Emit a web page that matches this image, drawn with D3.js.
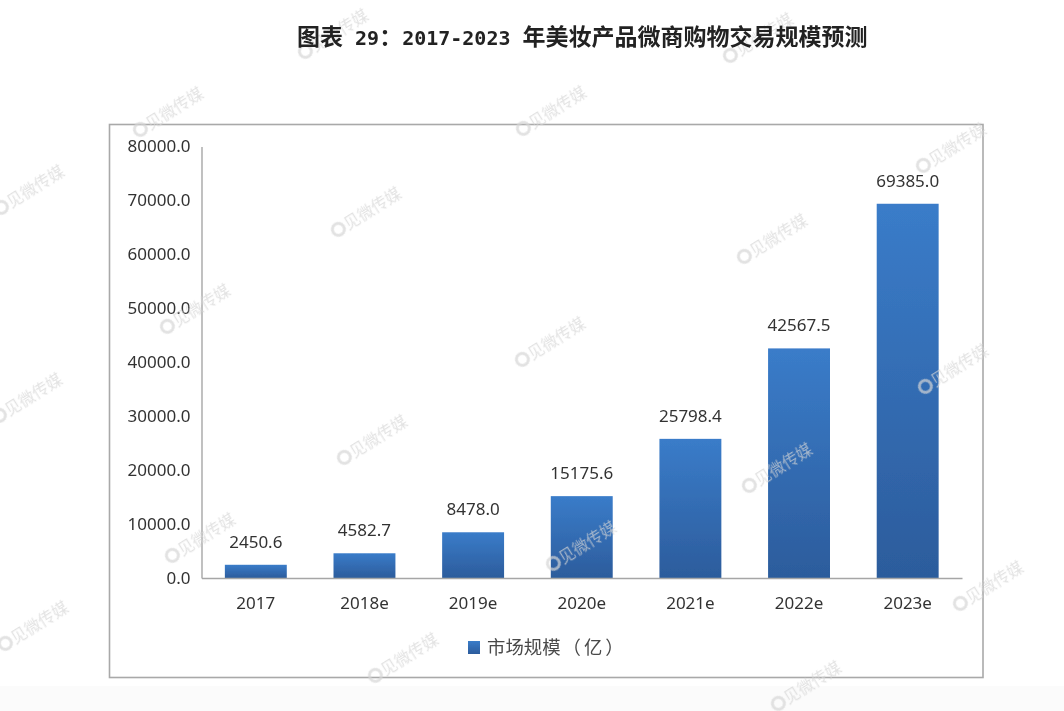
<!DOCTYPE html>
<html><head><meta charset="utf-8">
<script src="https://cdn.jsdelivr.net/npm/d3@7/dist/d3.min.js"></script>
<style>html,body{margin:0;padding:0;background:#fff}svg{display:block}</style></head>
<body><svg id="c" width="1064" height="711"></svg>
<script>
const categories = ["2017","2018e","2019e","2020e","2021e","2022e","2023e"];
const values = [2450.6,4582.7,8478.0,15175.6,25798.4,42567.5,69385.0];
const yTicks = [0,10000,20000,30000,40000,50000,60000,70000,80000];
const seriesNameParts = ["市场规模","（亿）"];
const titleParts = ["图表"," 29","：","2017-2023 ","年美妆产品微商购物交易规模预测"];
const watermarkText = "见微传媒";
const watermarks = [[165,114],[548,113],[363,214],[769,241],[948,150],[192,311],[547,344],[950,371],[369,442],[774,470],[197,540],[578,548],[985,588],[400,660],[803,688],[26,192],[24,400],[30,628],[755,40],[330,36]];

const svg = d3.select("#c");
const font = "'Noto Sans','Noto Sans CJK SC',sans-serif";
const defs = svg.append("defs");
const g = defs.append("linearGradient").attr("id","bar").attr("x1",0).attr("y1",0).attr("x2",0).attr("y2",1);
g.append("stop").attr("offset","0%").attr("stop-color","#3a7cc9");
g.append("stop").attr("offset","100%").attr("stop-color","#2c5c9c");
const f = defs.append("filter").attr("id","soft").attr("x","-10%").attr("y","-10%").attr("width","120%").attr("height","120%");
f.append("feGaussianBlur").attr("stdDeviation",0.55);

svg.append("rect").attr("width",1064).attr("height",711).attr("fill","#ffffff");
svg.append("rect").attr("y",686).attr("width",1064).attr("height",25).attr("fill","#fbfbfb");
svg.append("rect").attr("x",109.5).attr("y",124.5).attr("width",873.5).attr("height",553)
  .attr("fill","#fff").attr("stroke","#a9a9a9").attr("stroke-width",1.6);

const x = d3.scaleBand().domain(categories).range([201.5,962]).paddingInner(0.43).paddingOuter(0.215);
const y = d3.scaleLinear().domain([0,80000]).range([578,146.5]);

const root = svg.append("g").attr("filter","url(#soft)");
root.selectAll("rect.b").data(values).join("rect").attr("class","b")
  .attr("x",(d,i)=>x(categories[i])).attr("width",x.bandwidth())
  .attr("y",d=>y(d)).attr("height",d=>y(0)-y(d)).attr("fill","url(#bar)");

const ya = root.append("g").attr("transform","translate(201.5,0)")
  .call(d3.axisLeft(y).tickValues(yTicks).tickSize(0).tickPadding(11).tickFormat(d3.format(".1f")));
ya.select(".domain").attr("stroke","#a6a6a6").attr("stroke-width",1.4);
const xa = root.append("g").attr("transform","translate(0,578)")
  .call(d3.axisBottom(x).tickSize(0).tickPadding(19));
xa.select(".domain").attr("stroke","#a6a6a6").attr("stroke-width",1.4);
root.selectAll(".tick text").attr("font-family",font).attr("font-size",17).attr("fill","#333");

root.selectAll("text.v").data(values).join("text").attr("class","v")
  .attr("x",(d,i)=>x(categories[i])+x.bandwidth()/2).attr("y",d=>y(d)-17)
  .attr("text-anchor","middle").attr("font-family",font).attr("font-size",17).attr("fill","#333")
  .text(d=>d3.format(".1f")(d));

root.append("rect").attr("x",468).attr("y",641).attr("width",12).attr("height",13).attr("fill","url(#bar)");
const legendLabel = root.append("text").attr("x",487).attr("y",654).attr("font-family","'Noto Sans CJK SC',sans-serif").attr("font-size",18.4)
  .attr("fill","#4a4a4a");
legendLabel.selectAll("tspan").data(seriesNameParts).join("tspan")
  .attr("dx",(d,i)=>i?2:0).attr("letter-spacing",(d,i)=>i?3:0).text(d=>d);

const wm = svg.append("g").attr("opacity",0.7);
const w = wm.selectAll("g").data(watermarks).join("g")
  .attr("transform",d=>`translate(${d[0]},${d[1]}) rotate(-32)`);
w.append("circle").attr("cx",-29).attr("cy",0).attr("r",6).attr("fill","none").attr("stroke","#d6d6d6").attr("stroke-width",3);
w.append("text").attr("x",-21).attr("y",6).attr("font-family","'Noto Sans CJK SC',sans-serif")
  .attr("font-size",16).attr("fill","#d6d6d6").text(watermarkText);

const t = svg.append("text").attr("x",297).attr("y",45).attr("fill","#222").attr("filter","url(#soft)")
  .attr("xml:space","preserve").style("white-space","pre");
t.selectAll("tspan").data(titleParts).join("tspan")
  .attr("font-family",(d,i)=>(i===1||i===3)?"'DejaVu Sans Mono',monospace":"'Noto Sans CJK SC',sans-serif")
  .attr("font-size",(d,i)=>(i===1||i===3)?20:23)
  .attr("font-weight",700)
  .text(d=>d);
</script></body></html>
